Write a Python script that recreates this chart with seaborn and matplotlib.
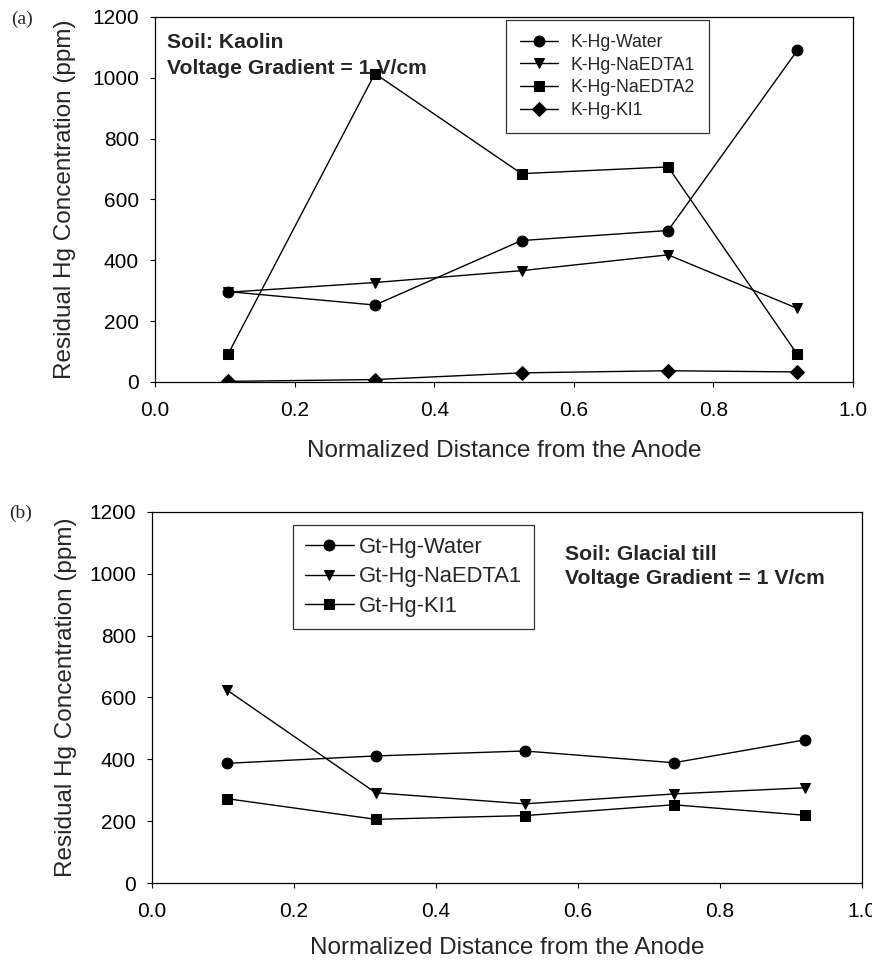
import matplotlib
matplotlib.use("Agg")
import matplotlib.pyplot as plt
import seaborn as sns
import pandas as pd
from matplotlib.ticker import FormatStrFormatter

# Normalized distance from the anode (sampling sections)
distance = [0.105, 0.315, 0.525, 0.735, 0.92]

# (a) Kaolin, residual Hg (ppm)
k_labels = ["K-Hg-Water", "K-Hg-NaEDTA1", "K-Hg-NaEDTA2", "K-Hg-KI1"]
k_water = [297, 253, 465, 498, 1090]
k_naedta1 = [295, 327, 366, 418, 242]
k_naedta2 = [93, 1014, 685, 707, 91]
k_ki1 = [2, 8, 30, 37, 33]

# (b) Glacial till, residual Hg (ppm)
gt_labels = ["Gt-Hg-Water", "Gt-Hg-NaEDTA1", "Gt-Hg-KI1"]
gt_water = [387, 411, 427, 389, 463]
gt_naedta1 = [625, 292, 256, 288, 308]
gt_ki1 = [273, 206, 218, 253, 219]

y_ticks = [0, 200, 400, 600, 800, 1000, 1200]
x_ticks = [0.0, 0.2, 0.4, 0.6, 0.8, 1.0]

sns.set_style("ticks")
plt.rcParams["font.family"] = ["Liberation Sans", "DejaVu Sans"]

fig = plt.figure(figsize=(8.72, 9.6), dpi=100)
ax_a = fig.add_axes([0.1778, 0.6021, 0.8005, 0.3802])
ax_b = fig.add_axes([0.1743, 0.0802, 0.8142, 0.3865])


def draw_series(ax, labels, series, markers, sizes):
    for lab, vals, mk, ms in zip(labels, series, markers, sizes):
        df = pd.DataFrame({"x": distance, "y": vals})
        sns.lineplot(data=df, x="x", y="y", ax=ax, color="black",
                     linewidth=1.0, marker=mk, markersize=ms,
                     markeredgecolor="black", markerfacecolor="black",
                     label=lab, estimator=None, sort=False)


draw_series(ax_a, k_labels, [k_water, k_naedta1, k_naedta2, k_ki1],
            ["o", "v", "s", "D"], [7.8, 7.8, 6.8, 6.8])
draw_series(ax_b, gt_labels, [gt_water, gt_naedta1, gt_ki1],
            ["o", "v", "s"], [7.8, 7.8, 6.8])

for ax, lx, ly in [(ax_a, -0.113, -0.160), (ax_b, -0.106, -0.146)]:
    ax.set_xlim(0, 1.0)
    ax.set_ylim(0, 1200)
    ax.set_xticks(x_ticks)
    ax.set_yticks(y_ticks)
    ax.xaxis.set_major_formatter(FormatStrFormatter("%.1f"))
    ax.tick_params(axis="both", direction="out", length=3.5, width=0.8,
                   colors="black", labelsize=15)
    ax.tick_params(axis="x", pad=10)
    ax.tick_params(axis="y", pad=8)
    for sp in ax.spines.values():
        sp.set_visible(True)
        sp.set_color("black")
        sp.set_linewidth(0.9)
    ax.set_xlabel("Normalized Distance from the Anode", fontsize=17.5)
    ax.set_ylabel("Residual Hg Concentration (ppm)", fontsize=17.5)
    ax.xaxis.set_label_coords(0.5, ly)
    ax.yaxis.set_label_coords(lx, 0.5)

# Legends
leg_a = ax_a.legend(loc="upper left", bbox_to_anchor=(0.503, 0.992),
                    fontsize=12.7, frameon=True, fancybox=False,
                    edgecolor="black", handlelength=2.15, handletextpad=0.68,
                    labelspacing=0.32, borderpad=0.8, borderaxespad=0)
leg_a.get_frame().set_linewidth(0.9)
leg_b = ax_b.legend(loc="upper left", bbox_to_anchor=(0.199, 0.965),
                    fontsize=15.8, frameon=True, fancybox=False,
                    edgecolor="black", handlelength=2.2, handletextpad=0.25,
                    labelspacing=0.38, borderpad=0.55, borderaxespad=0)
leg_b.get_frame().set_linewidth(0.9)

# Soil / test condition notes
note_style = dict(fontsize=15.2, fontweight="bold", va="center", ha="left")
ax_a.text(0.017, 0.930, "Soil: Kaolin", transform=ax_a.transAxes, **note_style)
ax_a.text(0.017, 0.860, "Voltage Gradient = 1 V/cm", transform=ax_a.transAxes,
          **note_style)
ax_b.text(0.582, 0.885, "Soil: Glacial till", transform=ax_b.transAxes,
          **note_style)
ax_b.text(0.582, 0.822, "Voltage Gradient = 1 V/cm", transform=ax_b.transAxes,
          **note_style)

# Panel tags
fig.text(11 / 872, 1 - 19 / 960, "(a)", family=["Liberation Serif", "DejaVu Serif"],
         fontsize=14, va="center", ha="left")
fig.text(9 / 872, 1 - 513 / 960, "(b)", family=["Liberation Serif", "DejaVu Serif"],
         fontsize=14, va="center", ha="left")

fig.savefig("out.png", dpi=100)
